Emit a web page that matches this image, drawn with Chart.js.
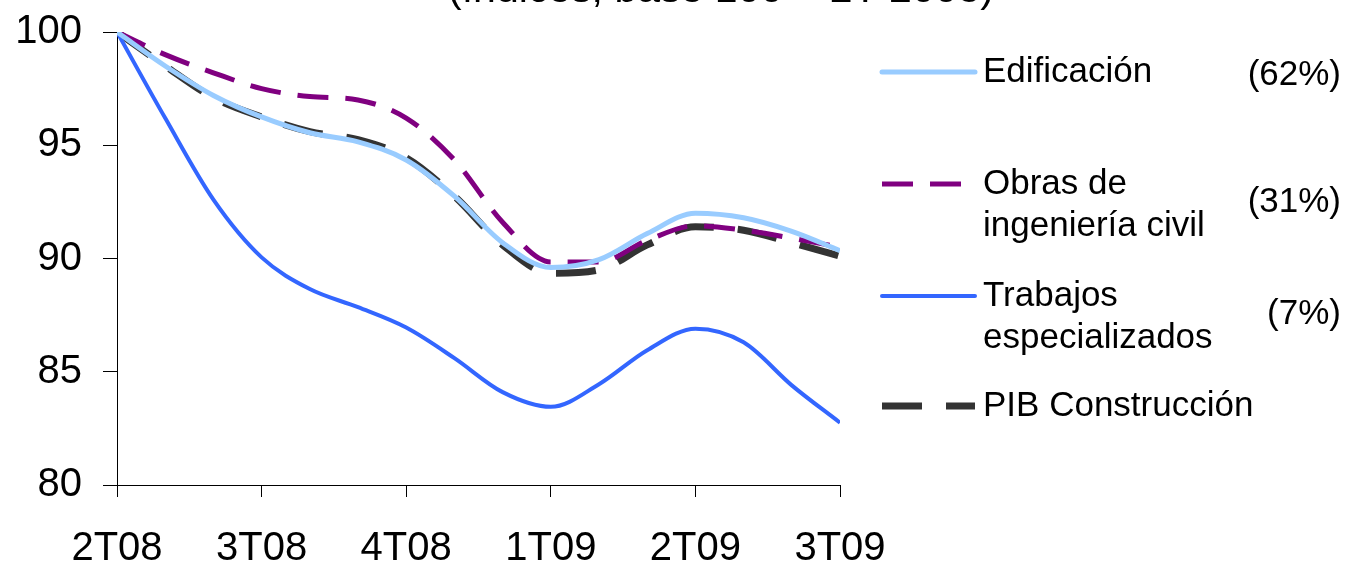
<!DOCTYPE html>
<html>
<head>
<meta charset="utf-8">
<script src="https://cdn.jsdelivr.net/npm/chart.js@4"></script>
<style>
  html, body { margin: 0; padding: 0; background: #fff; }
  #wrap { width: 1347px; height: 565px; position: relative; }
</style>
</head>
<body>
<div id="wrap"><canvas id="canvas" width="1347" height="565"></canvas></div>
<script>
// quarterly tick labels, data is monthly (3 points per quarter)
const tickLabels = ['2T08', '3T08', '4T08', '1T09', '2T09', '3T09'];

const edificacion = [100, 98.5, 97.2, 96.25, 95.55, 95.15, 94.35, 92.75, 90.7, 89.6, 89.95, 91.1, 92.0, 91.8, 91.2, 90.35];
const obras       = [100, 99.0, 98.2, 97.5, 97.15, 97.0, 96.2, 94.35, 91.6, 89.85, 89.85, 90.8, 91.45, 91.25, 90.9, 90.5];
const trabajos    = [100, 96.2, 92.6, 90.05, 88.65, 87.85, 86.95, 85.6, 84.1, 83.45, 84.45, 85.95, 86.9, 86.3, 84.4, 82.75];
const pib         = [100, 98.5, 97.1, 96.25, 95.6, 95.25, 94.45, 92.75, 90.6, 89.35, 89.5, 90.6, 91.4, 91.25, 90.7, 90.1];

const legendText = [
  { lines: ['Edificación'], pct: '(62%)' },
  { lines: ['Obras de', 'ingeniería civil'], pct: '(31%)' },
  { lines: ['Trabajos', 'especializados'], pct: '(7%)' },
  { lines: ['PIB Construcción'], pct: '' }
];

const FONT = 'Arial, "Liberation Sans", sans-serif';

function pts(arr) {
  return arr.map((v, i) => ({ x: i / 3, y: v }));
}

// title (cut at top) and right-hand legend
const extras = {
  id: 'extras',
  afterDraw(chart) {
    const c = chart.ctx;
    c.save();
    c.fillStyle = '#000';
    c.font = '41px ' + FONT;
    c.textAlign = 'center';
    c.textBaseline = 'alphabetic';
    c.fillText('(índices, base 100 = 2T 2008)', 721, 2);

    const ys = [72, 184, 296, 406];
    c.font = '35px ' + FONT;
    chart.data.datasets.forEach((ds, i) => {
      const y = ys[i];
      c.beginPath();
      c.strokeStyle = ds.borderColor;
      c.lineWidth = ds.borderWidth;
      c.setLineDash(ds.borderDash || []);
      c.lineCap = ds.borderDash ? 'butt' : 'round';
      c.moveTo(882, y);
      c.lineTo(975, y);
      c.stroke();
      c.setLineDash([]);
      c.textAlign = 'left';
      c.textBaseline = 'middle';
      legendText[i].lines.forEach((t, k) => c.fillText(t, 983, y + k * 42));
      if (legendText[i].pct) {
        c.textAlign = 'right';
        const py = legendText[i].lines.length > 1 ? y + 18 : y + 3;
        c.fillText(legendText[i].pct, 1341, py);
      }
    });
    c.restore();
  }
};

const ctx = document.getElementById('canvas');
const myChart = new Chart(ctx, {
  type: 'line',
  data: {
    datasets: [
      { label: 'Edificación', data: pts(edificacion), borderColor: '#99CCFF', borderWidth: 5 },
      { label: 'Obras de ingeniería civil', data: pts(obras), borderColor: '#800080', borderWidth: 5, borderDash: [31, 17] },
      { label: 'Trabajos especializados', data: pts(trabajos), borderColor: '#3366FF', borderWidth: 4 },
      { label: 'PIB Construcción', data: pts(pib), borderColor: '#333333', borderWidth: 7, borderDash: [40, 24] }
    ]
  },
  options: {
    responsive: false,
    animation: false,
    layout: { padding: { top: 32, right: 507, left: 0, bottom: 0 } },
    elements: {
      point: { radius: 0 },
      line: { tension: 0.4, cubicInterpolationMode: 'monotone', fill: false }
    },
    plugins: { legend: { display: false }, tooltip: { enabled: false } },
    scales: {
      x: {
        type: 'linear',
        min: 0,
        max: 5,
        afterFit: s => { s.height = 80; s.paddingLeft = 0; s.paddingRight = 0; },
        ticks: {
          stepSize: 1,
          padding: 28,
          color: '#000',
          font: { size: 40, family: FONT },
          callback: v => tickLabels[v]
        },
        grid: { drawOnChartArea: false, tickLength: 12, color: '#000' },
        border: { color: '#000', width: 1 }
      },
      y: {
        min: 80,
        max: 100,
        afterFit: s => { s.width = 117; s.paddingTop = 0; s.paddingBottom = 0; },
        ticks: {
          stepSize: 5,
          padding: 21,
          color: '#000',
          font: { size: 40, family: FONT }
        },
        grid: { drawOnChartArea: false, tickLength: 14, color: '#000' },
        border: { color: '#000', width: 1 }
      }
    }
  },
  plugins: [extras]
});
</script>
</body>
</html>
